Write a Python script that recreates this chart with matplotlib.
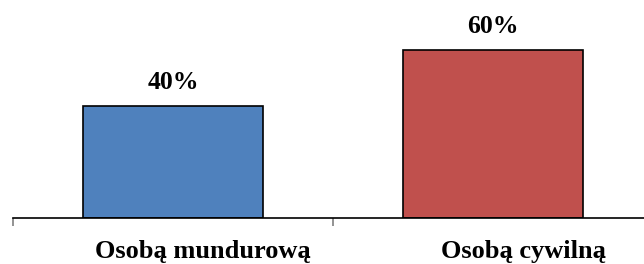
import matplotlib.pyplot as plt
import matplotlib.transforms as mtransforms

categories = ['Osobą mundurową', 'Osobą cywilną']
values = [40, 60]
labels = ['40%', '60%']
colors = ['#4F81BD', '#C0504D']

plt.rcParams['font.family'] = ['Liberation Serif', 'DejaVu Serif']

fig = plt.figure(figsize=(6.44, 2.64), dpi=100)
ax = fig.add_axes([13 / 644, 46 / 264, 640 / 644, 218 / 264])

x = range(len(categories))
bars = ax.bar(x, values, width=0.56, color=colors, edgecolor='black', linewidth=1.2)

for bar, lab in zip(bars, labels):
    ax.annotate(lab, (bar.get_x() + bar.get_width() / 2, bar.get_height()),
                xytext=(0, 12), textcoords='offset points',
                ha='center', va='baseline', fontsize=18.5, fontweight='bold')

ax.set_xlim(-0.5, len(categories) - 0.5)
ax.set_ylim(0, 77.9)

for s in ['top', 'right', 'left']:
    ax.spines[s].set_visible(False)
ax.spines['bottom'].set_color('black')
ax.spines['bottom'].set_linewidth(1.2)
ax.set_yticks([])

ax.set_xticks(list(x))
ax.set_xticklabels(categories, fontsize=19, fontweight='bold')
ax.tick_params(axis='x', which='major', length=0, pad=16)
ax.set_xticks([i - 0.5 for i in range(len(categories) + 1)], minor=True)
ax.tick_params(axis='x', which='minor', length=6, width=1.2, color='#808080')

shift = mtransforms.ScaledTranslation(30 / 100, 0, fig.dpi_scale_trans)
for t in ax.get_xticklabels():
    t.set_transform(t.get_transform() + shift)

fig.savefig('out.png', dpi=100)
